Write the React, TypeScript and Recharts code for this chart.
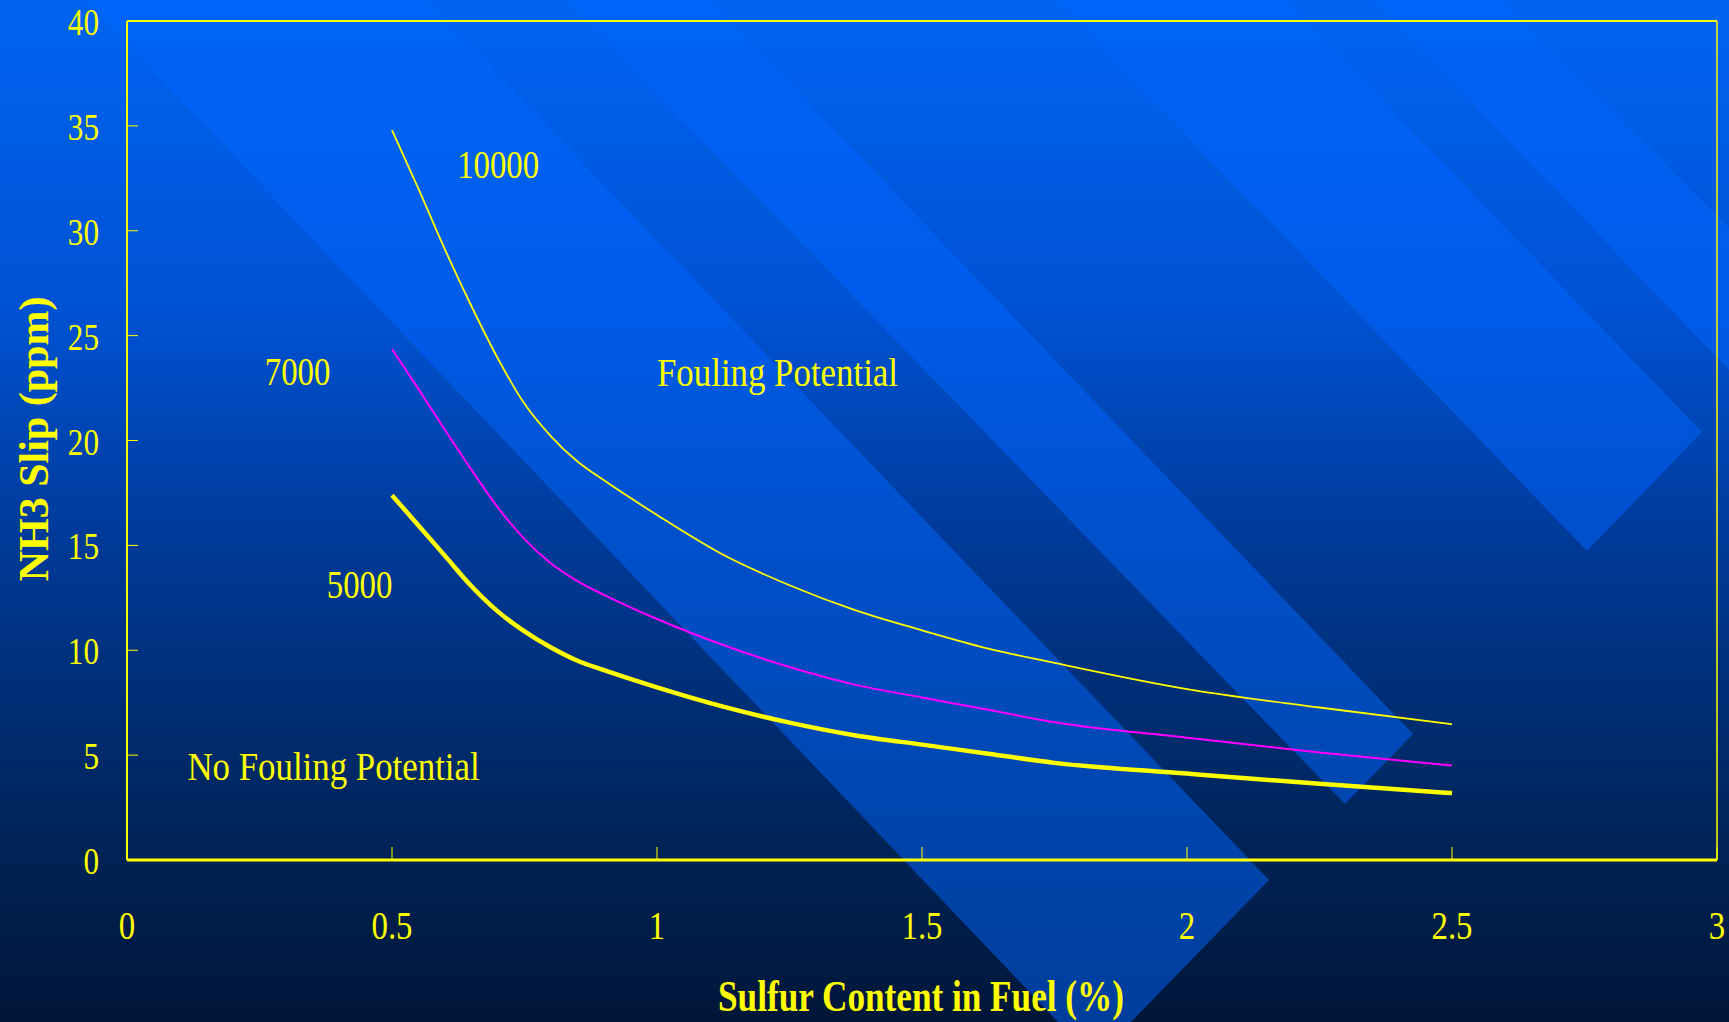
import React from 'react';
import { LineChart, Line, XAxis, YAxis, ReferenceLine, ReferenceDot } from 'recharts';

// sulfur content in fuel (%) and NH3 slip (ppm) for each SO3 curve
const sulfur = [0.5, 0.55, 0.6, 0.65, 0.7, 0.75, 0.8, 0.85, 0.9, 1.0, 1.125, 1.25, 1.375, 1.5, 1.625, 1.75, 2.0, 2.25, 2.5];
const slip10000 = [34.8, 32.0, 29.1, 26.4, 23.9, 21.75, 20.2, 19.0, 18.1, 16.45, 14.55, 13.1, 11.9, 10.95, 10.08, 9.4, 8.15, 7.27, 6.47];
const slip7000 = [24.37, 22.45, 20.5, 18.6, 16.8, 15.3, 14.14, 13.3, 12.64, 11.49, 10.25, 9.2, 8.35, 7.75, 7.16, 6.57, 5.83, 5.12, 4.5];
const slip5000 = [17.39, 15.95, 14.5, 13.05, 11.84, 10.9, 10.13, 9.5, 9.05, 8.23, 7.31, 6.55, 5.94, 5.5, 5.07, 4.63, 4.12, 3.63, 3.19];

const xTicks = [0, 0.5, 1, 1.5, 2, 2.5, 3];
const yTicks = [0, 5, 10, 15, 20, 25, 30, 35, 40];

const notes = [
  { text: '10000', x: 0.623, y: 32.5 },
  { text: '7000', x: 0.26, y: 22.65 },
  { text: '5000', x: 0.377, y: 12.49 },
  { text: 'Fouling Potential', x: 1.0, y: 22.6 },
  { text: 'No Fouling Potential', x: 0.114, y: 3.81 },
];

const data = sulfur.map((x, i) => ({ x, s10000: slip10000[i], s7000: slip7000[i], s5000: slip5000[i] }));

const W = 1729;
const H = 1022;
const YELLOW = '#FFFF00';
const SERIF = '"Liberation Serif", "Times New Roman", serif';

// slide background ribbons (decoration only)
const ribbons = [
  '85,0 427,0 1269,880 1131,1022 1058,1022',
  '566,0 710,0 1413,734 1345,804',
  '1056,0 1286,0 1702,432 1587,551',
  '1373,0 1501,0 1729,228 1729,370',
];

function XTick({ x, y, payload }: any) {
  return (
    <g transform={`translate(${x},${y}) scale(0.8,1)`}>
      <text x={0} y={27} textAnchor="middle" fill={YELLOW} fontFamily={SERIF} fontSize={41}>
        {payload.value}
      </text>
    </g>
  );
}

function YTick({ x, y, payload }: any) {
  return (
    <g transform={`translate(${x},${y}) scale(0.82,1)`}>
      <text x={0} y={14} textAnchor="end" fill={YELLOW} fontFamily={SERIF} fontSize={38}>
        {payload.value}
      </text>
    </g>
  );
}

function Note({ cx, cy, text }: any) {
  // words were squeezed a little less than the numbers on the slide
  const sx = /[A-Za-z]/.test(text) ? 0.85 : 0.8;
  return (
    <g transform={`translate(${cx},${cy}) scale(${sx},1)`}>
      <text x={0} y={0} textAnchor="start" fill={YELLOW} fontFamily={SERIF} fontSize={41}>
        {text}
      </text>
    </g>
  );
}

export default function App() {
  return (
    <div
      style={{
        position: 'absolute',
        left: 0,
        top: 0,
        width: W,
        height: H,
        overflow: 'hidden',
        background: 'linear-gradient(to bottom, #0064f2 0%, #0052d4 30%, #003a98 53%, #002458 82%, #001638 100%)',
      }}
    >
      <svg width={W} height={H} style={{ position: 'absolute', left: 0, top: 0 }}>
        {ribbons.map((p) => (
          <polygon key={p} points={p} fill="#0066FF" fillOpacity={0.5} />
        ))}
        <g transform="translate(921,1011) scale(0.8,1)">
          <text x={0} y={0} textAnchor="middle" fill={YELLOW} fontFamily={SERIF} fontSize={44} fontWeight="bold">
            Sulfur Content in Fuel (%)
          </text>
        </g>
        <text
          x={0}
          y={0}
          transform="translate(48,439) rotate(-90)"
          textAnchor="middle"
          fill={YELLOW}
          fontFamily={SERIF}
          fontSize={42}
          fontWeight="bold"
        >
          NH3 Slip (ppm)
        </text>
      </svg>
      <div style={{ position: 'absolute', left: 0, top: 0 }}>
        <LineChart width={W} height={H} data={data} margin={{ top: 21, right: 12, left: 27, bottom: 62 }}>
          <XAxis
            type="number"
            dataKey="x"
            domain={[0, 3]}
            ticks={xTicks}
            interval={0}
            height={100}
            tickSize={-13}
            tickMargin={65}
            axisLine={{ stroke: YELLOW, strokeWidth: 3 }}
            tickLine={{ stroke: YELLOW, strokeWidth: 1 }}
            tick={<XTick />}
          />
          <YAxis
            type="number"
            domain={[0, 40]}
            ticks={yTicks}
            interval={0}
            width={100}
            tickSize={-11}
            tickMargin={39}
            axisLine={{ stroke: YELLOW, strokeWidth: 2 }}
            tickLine={{ stroke: YELLOW, strokeWidth: 1 }}
            tick={<YTick />}
          />
          <ReferenceLine y={40} stroke={YELLOW} strokeWidth={2} />
          <ReferenceLine x={3} stroke={YELLOW} strokeWidth={1.5} />
          <Line type="monotone" dataKey="s10000" stroke={YELLOW} strokeWidth={1.8} dot={false} isAnimationActive={false} />
          <Line type="monotone" dataKey="s7000" stroke="#FF00FF" strokeWidth={2} dot={false} isAnimationActive={false} />
          <Line type="monotone" dataKey="s5000" stroke={YELLOW} strokeWidth={4.5} dot={false} isAnimationActive={false} />
          {notes.map((n) => (
            <ReferenceDot
              key={n.text}
              x={n.x}
              y={n.y}
              r={1}
              ifOverflow="visible"
              shape={(p: any) => <Note cx={p.cx} cy={p.cy} text={n.text} />}
            />
          ))}
        </LineChart>
      </div>
    </div>
  );
}
